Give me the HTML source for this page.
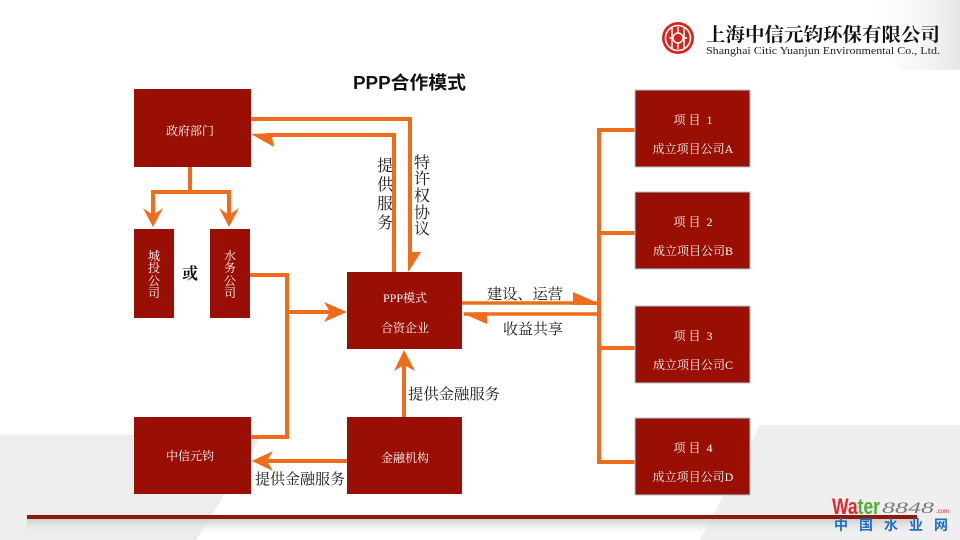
<!DOCTYPE html>
<html>
<head>
<meta charset="utf-8">
<style>
  html,body{margin:0;padding:0;background:#fff;}
  body{width:960px;height:540px;overflow:hidden;}
  svg{display:block;}
  .box{fill:#990f03;}
  .bt{fill:#fff;font-family:"Liberation Serif","Noto Serif CJK SC",serif;font-size:12px;font-weight:normal;text-anchor:middle;}
  .lb{fill:#1a1a1a;font-family:"Liberation Serif","Noto Serif CJK SC",serif;font-size:15px;}
  .ln{stroke:#ef6c1a;stroke-width:4;fill:none;}
  .ah{fill:#ef6c1a;}
</style>
</head>
<body>
<svg width="960" height="540" viewBox="0 0 960 540" xmlns="http://www.w3.org/2000/svg">
  <defs>
    <linearGradient id="tr" x1="0" y1="0" x2="1" y2="0">
      <stop offset="0" stop-color="#ffffff" stop-opacity="0"/>
      <stop offset="1" stop-color="#e6e6e6"/>
    </linearGradient>
    <linearGradient id="sh" x1="0" y1="0" x2="0" y2="1">
      <stop offset="0" stop-color="#cfcfcf"/>
      <stop offset="1" stop-color="#f2f2f2" stop-opacity="0"/>
    </linearGradient>
  </defs>

  <!-- background shapes -->
  <polygon points="860,0 960,0 960,70 900,70" fill="url(#tr)"/>
  <polygon points="0,435 262,435 196,540 0,540" fill="#ededed"/>
  <polygon points="760,425 960,425 960,540 700,540" fill="#efefef"/>
  <rect x="27" y="519" width="890" height="16" fill="url(#sh)"/>

  <!-- company logo top right -->
  <circle cx="678" cy="38" r="16" fill="#d5241c"/>
  <circle cx="678" cy="38" r="12.5" fill="none" stroke="#fff" stroke-width="1.6"/>
  <path d="M672,28 V48 M678,27 V49 M684,28 V48 M669,38 H687" stroke="#fff" stroke-width="1.6" fill="none"/>
  <circle cx="678" cy="38" r="5" fill="#d5241c" stroke="#fff" stroke-width="1.4"/>
  <text x="706" y="41" font-family="'Liberation Serif','Noto Serif CJK SC',serif" font-size="19" font-weight="bold" fill="#111" textLength="234" lengthAdjust="spacingAndGlyphs">上海中信元钧环保有限公司</text>
  <text x="706" y="54" font-family="'Liberation Serif',serif" font-size="11" fill="#222" textLength="234" lengthAdjust="spacingAndGlyphs">Shanghai Citic Yuanjun Environmental Co., Ltd.</text>

  <!-- title -->
  <text x="353" y="89" font-family="'Liberation Sans','Noto Sans CJK SC',sans-serif" font-size="18" font-weight="bold" fill="#111" textLength="113" lengthAdjust="spacingAndGlyphs">PPP合作模式</text>

  <!-- connectors -->
  <path class="ln" d="M190,167 V192 M151,192 H231 M153,192 V218 M229,192 V218"/>
  <polygon class="ah" points="153,227 143,208 153,215 163,208"/>
  <polygon class="ah" points="229,227 219,208 229,215 239,208"/>

  <path class="ln" d="M251,119 H410 V258"/>
  <polygon class="ah" points="408,252 421,252 409,271 408,271"/>
  <path class="ln" d="M394,272 V135 H266"/>
  <polygon class="ah" points="251,134 274,133 272,137 274,147"/>

  <path class="ln" d="M250,275 H287 V437 H250 M287,312 H330"/>
  <polygon class="ah" points="347,312 324,302 330,312 324,322"/>

  <path class="ln" d="M404,417 V364"/>
  <polygon class="ah" points="404,350 394,371 404,365 415,371"/>

  <path class="ln" d="M347,461 H266"/>
  <polygon class="ah" points="252,461 273,451 267,461 273,471"/>

  <path d="M462,303 H598" stroke="#ef6c1a" stroke-width="3.5" fill="none"/>
  <polygon class="ah" points="573,292 598,303 598,305 573,305"/>
  <path d="M599,314 H464" stroke="#ef6c1a" stroke-width="3.5" fill="none"/>
  <polygon class="ah" points="462,313 487,312 487,324"/>

  <path class="ln" d="M599,128 V464 M597,130 H635 M597,233 H635 M597,348 H635 M597,462 H635"/>

  <!-- boxes -->
  <rect class="box" x="134" y="89" width="117" height="78"/>
  <text class="bt" x="190" y="135">政府部门</text>

  <rect class="box" x="134" y="229" width="40" height="89"/>
  <text class="bt" x="154" y="260">城</text>
  <text class="bt" x="154" y="272">投</text>
  <text class="bt" x="154" y="285">公</text>
  <text class="bt" x="154" y="297">司</text>

  <rect class="box" x="210" y="229" width="40" height="89"/>
  <text class="bt" x="230" y="260">水</text>
  <text class="bt" x="230" y="272">务</text>
  <text class="bt" x="230" y="285">公</text>
  <text class="bt" x="230" y="297">司</text>

  <text x="190" y="279" font-family="'Liberation Serif','Noto Serif CJK SC',serif" font-size="16" font-weight="bold" fill="#111" text-anchor="middle">或</text>

  <rect class="box" x="134" y="417" width="117" height="77"/>
  <text class="bt" x="190" y="460">中信元钧</text>

  <rect class="box" x="347" y="272" width="115" height="77"/>
  <text class="bt" x="405" y="302">PPP模式</text>
  <text class="bt" x="405" y="332">合资企业</text>

  <rect class="box" x="347" y="417" width="115" height="77"/>
  <text class="bt" x="405" y="462">金融机构</text>

  <g stroke="#a9c9d6" stroke-width="1">
    <rect class="box" x="635" y="90" width="115" height="77"/>
    <rect class="box" x="635" y="192" width="115" height="77"/>
    <rect class="box" x="635" y="306" width="115" height="77"/>
    <rect class="box" x="635" y="418" width="115" height="77"/>
  </g>
  <text class="bt" x="693" y="124" xml:space="preserve">项 目  1</text>
  <text class="bt" x="693" y="153">成立项目公司A</text>
  <text class="bt" x="693" y="226" xml:space="preserve">项 目  2</text>
  <text class="bt" x="693" y="255">成立项目公司B</text>
  <text class="bt" x="693" y="340" xml:space="preserve">项 目  3</text>
  <text class="bt" x="693" y="369">成立项目公司C</text>
  <text class="bt" x="693" y="452" xml:space="preserve">项 目  4</text>
  <text class="bt" x="693" y="481">成立项目公司D</text>

  <!-- labels -->
  <g class="lb" text-anchor="middle" style="font-size:16px">
    <text x="385" y="171">提</text>
    <text x="385" y="190">供</text>
    <text x="385" y="209">服</text>
    <text x="385" y="228">务</text>
    <text x="422" y="168">特</text>
    <text x="422" y="184">许</text>
    <text x="422" y="201">权</text>
    <text x="422" y="218">协</text>
    <text x="422" y="234">议</text>
  </g>
  <text class="lb" x="487" y="299" textLength="76" lengthAdjust="spacingAndGlyphs">建设、运营</text>
  <text class="lb" x="503" y="334" textLength="60" lengthAdjust="spacingAndGlyphs">收益共享</text>
  <text class="lb" x="408" y="399" textLength="92" lengthAdjust="spacingAndGlyphs">提供金融服务</text>
  <text class="lb" x="255" y="484" textLength="90" lengthAdjust="spacingAndGlyphs">提供金融服务</text>

  <!-- footer line -->
  <rect x="27" y="515" width="890" height="4" fill="#8e1a0e"/>

  <!-- water8848 logo -->
  <text x="832" y="514" font-family="'Liberation Sans',sans-serif" font-size="22" font-weight="bold" textLength="48" lengthAdjust="spacingAndGlyphs"><tspan fill="#e3262b">Wa</tspan><tspan fill="#4caf3a">ter</tspan></text>
  <text x="882" y="513" font-family="'Liberation Serif',serif" font-size="16" font-style="italic" fill="#7a7a7a" textLength="52" lengthAdjust="spacingAndGlyphs">8848</text>
  <text x="936" y="513" font-family="'Liberation Sans',sans-serif" font-size="6" fill="#e3262b">.com</text>
  <text x="834" y="530" font-family="'Liberation Sans','Noto Sans CJK SC',sans-serif" font-size="14" font-weight="bold" fill="#1f6fc5" textLength="114" lengthAdjust="spacing">中国水业网</text>
</svg>
</body>
</html>
